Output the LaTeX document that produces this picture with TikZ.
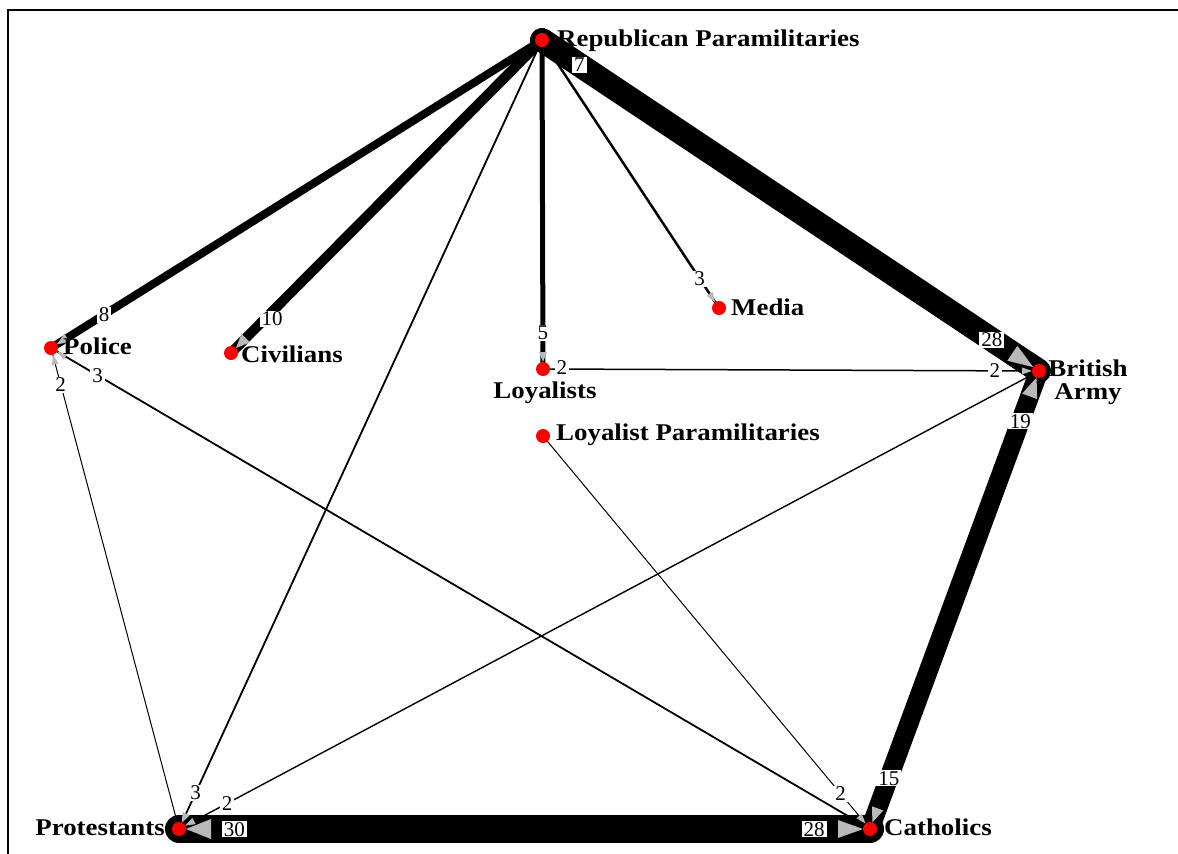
\documentclass[tikz,border=0pt]{standalone}
\usepackage{fontspec}
\setmainfont{Liberation Serif}
\newfontfamily\vfont{Liberation Serif}[FakeStretch=1.12]
\usetikzlibrary{calc}
\tikzset{
  vtx/.style={circle,fill=red,draw=none,inner sep=0pt,minimum size=14pt},
  vlab/.style={font=\vfont\bfseries\fontsize{24}{26}\selectfont,inner sep=0pt,text height=16pt,text depth=5pt},
  elab/.style={fill=white,inner xsep=2pt,inner ysep=1pt,text height=14pt,text depth=0pt,font=\fontsize{21}{22}\selectfont},
  edge/.style={draw=black,line cap=round},
  arrgray/.style={fill=gray!55,draw=none}
}
\newcommand\garr[4]{%
  \path ($(#2)!#3!(#1)$) coordinate (tmpB);
  \fill[arrgray] ($(#2)!7pt!(#1)$) -- ($(tmpB)!#4!90:(#2)$) -- ($(tmpB)!#4!-90:(#2)$) -- cycle;}
\begin{document}
\begin{tikzpicture}[x=1pt,y=-1pt]
\useasboundingbox (0,0) rectangle (1178,854);
\draw[line width=2pt] (8,854) -- (8,10) -- (1178,10);
% vertex positions
\coordinate (pRP) at (542,40);
\coordinate (pPo) at (51,348);
\coordinate (pCi) at (231,353);
\coordinate (pLo) at (543,369);
\coordinate (pMe) at (719,308);
\coordinate (pBA) at (1039,371);
\coordinate (pLP) at (543,436);
\coordinate (pPr) at (179,829);
\coordinate (pCa) at (870,829);
% edges
\draw[edge,line width=1pt] (pLP) -- (pCa);
\draw[edge,line width=1pt] (pPo) -- (pPr);
\draw[edge,line width=1.4pt] (pPr) -- (pBA);
\draw[edge,line width=1.8pt] (pPo) -- (pCa);
\draw[edge,line width=1.5pt] (pLo) -- (pBA);
\draw[edge,line width=1.8pt] (pPr) -- (pRP);
\draw[edge,line width=2.5pt] (pMe) -- (pRP);
\draw[edge,line width=5pt] (pLo) -- (pRP);
\draw[edge,line width=8pt] (pPo) -- (pRP);
\draw[edge,line width=10pt] (pCi) -- (pRP);
\draw[edge,line width=24pt] (pRP) -- (pBA);
\draw[edge,line width=19pt] (pBA) -- (pCa);
\draw[edge,line width=28pt] (pPr) -- (pCa);
% arrowheads
\garr{pRP}{pBA}{32pt}{9pt}
\garr{pCa}{pBA}{27pt}{8pt}
\garr{pLo}{pBA}{17pt}{3.5pt}
\garr{pPr}{pCa}{32pt}{9pt}
\garr{pCa}{pPr}{32pt}{10pt}
\garr{pBA}{pCa}{22pt}{6pt}
\garr{pLP}{pCa}{17pt}{3.5pt}
\garr{pCa}{pPo}{17pt}{3.5pt}
\garr{pRP}{pPo}{19pt}{5pt}
\garr{pRP}{pCi}{21pt}{6pt}
\garr{pRP}{pLo}{17pt}{4pt}
\garr{pRP}{pMe}{17pt}{3.5pt}
\garr{pRP}{pPr}{17pt}{4pt}
\garr{pPr}{pPo}{17pt}{3.5pt}
\garr{pBA}{pPr}{17pt}{3.5pt}
% edge labels
\path (pRP) -- node[elab,pos=0.075] (l1a) {7} node[elab,pos=0.905] (l1b) {28} (pBA);
\path (pBA) -- node[elab,pos=0.11] (l2a) {19} node[elab,pos=0.889] (l2b) {15} (pCa);
\path (pPr) -- node[elab,pos=0.08] (l3a) {30} node[elab,pos=0.919] (l3b) {28} (pCa);
\path (pCi) -- node[elab,pos=0.11,xshift=7pt] (l4) {10} (pRP);
\path (pPo) -- node[elab,pos=0.108] (l5) {8} (pRP);
\path (pLo) -- node[elab,pos=0.11] (l6) {5} (pRP);
\path (pMe) -- node[elab,pos=0.11] (l7) {3} (pRP);
\path (pPr) -- node[elab,pos=0.046] (l8) {3} (pRP);
\path (pLo) -- node[elab,pos=0.038,yshift=2pt] (l9a) {2} node[elab,pos=0.911] (l9b) {2} (pBA);
\path (pPo) -- node[elab,pos=0.076] (l10) {2} (pPr);
\path (pPo) -- node[elab,pos=0.057] (l11) {3} (pCa);
\path (pLP) -- node[elab,pos=0.91] (l12) {2} (pCa);
\path (pPr) -- node[elab,pos=0.056] (l13) {2} (pBA);
% vertices
\node[vtx] (RP) at (pRP) {};
\node[vtx] (Po) at (pPo) {};
\node[vtx] (Ci) at (pCi) {};
\node[vtx] (Lo) at (pLo) {};
\node[vtx] (Me) at (pMe) {};
\node[vtx] (BA) at (pBA) {};
\node[vtx] (LP) at (pLP) {};
\node[vtx] (Pr) at (pPr) {};
\node[vtx] (Ca) at (pCa) {};
% vertex names
\node[vlab,anchor=base west] (tRP) at (557,46) {Republican Paramilitaries};
\node[vlab,anchor=base west] (tPo) at (63,354) {Police};
\node[vlab,anchor=base west] (tCi) at (241,362) {Civilians};
\node[vlab,anchor=base] (tLo) at (545,398) {Loyalists};
\node[vlab,anchor=base west] (tMe) at (731,315) {Media};
\node[vlab,anchor=base,text depth=0pt] (tBA1) at (1088,376) {British};
\node[vlab,anchor=base,text height=15pt] (tBA2) at (1088,399) {Army};
\node[vlab,anchor=base west] (tLP) at (556,440) {Loyalist Paramilitaries};
\node[vlab,anchor=base east] (tPr) at (165,835) {Protestants};
\node[vlab,anchor=base west] (tCa) at (884,835) {Catholics};
\end{tikzpicture}
\end{document}
